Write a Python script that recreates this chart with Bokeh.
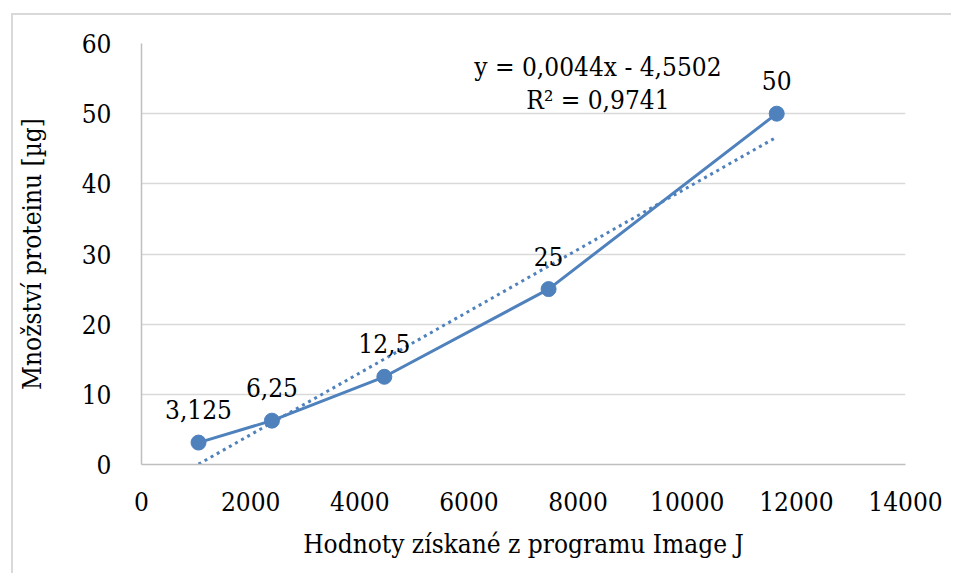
import numpy as np
from bokeh.plotting import figure
from bokeh.models import Label, ColumnDataSource
from bokeh.core.properties import value
from bokeh.embed import file_html
from bokeh.resources import INLINE

# data
x_vals = [1045, 2390, 4450, 7460, 11640]
y_vals = [3.125, 6.25, 12.5, 25, 50]
point_labels = ["3,125", "6,25", "12,5", "25", "50"]
slope = 0.0044
intercept = -4.5502
eq_text = "y = 0,0044x - 4,5502"
r2_text = "R² = 0,9741"
x_ticks = [0, 2000, 4000, 6000, 8000, 10000, 12000, 14000]
y_ticks = [0, 10, 20, 30, 40, 50, 60]
x_title = "Hodnoty získané z programu Image J"
y_title = "Množství proteinu [µg]"

FONT = "'DejaVu Serif Condensed', 'DejaVu Serif'"
FS = "26px"
BLUE = "#4f81bd"

p = figure(width=940, height=560, x_range=(0, 14000), y_range=(0, 60),
           output_backend="svg", toolbar_location=None,
           min_border_left=127, min_border_right=48, min_border_top=28,
           min_border_bottom=111,
           styles={"border-left": "2px solid #d9d9d9", "border-top": "2px solid #d9d9d9",
                   "margin-left": "11px", "margin-top": "13px"})
p.outline_line_color = None
p.background_fill_color = "white"
p.border_fill_color = "white"

p.xgrid.visible = False
p.ygrid.grid_line_color = "#d9d9d9"
p.ygrid.grid_line_width = 1.5
p.xaxis.ticker = x_ticks
p.yaxis.ticker = y_ticks

for ax in (p.xaxis, p.yaxis):
    ax.axis_line_color = "#bfbfbf"
    ax.axis_line_width = 1.5
    ax.major_tick_line_color = None
    ax.minor_tick_line_color = None
    ax.major_label_text_font = FONT
    ax.major_label_text_font_size = FS
    ax.major_label_text_color = "#000000"
    ax.axis_label_text_font = FONT
    ax.axis_label_text_font_size = FS
    ax.axis_label_text_font_style = "normal"
    ax.axis_label_text_color = "#000000"

p.xaxis.axis_label = x_title
p.yaxis.axis_label = y_title
p.xaxis.major_label_standoff = 21
p.yaxis.major_label_standoff = 24
p.xaxis.axis_label_standoff = 15
p.yaxis.axis_label_standoff = 32

# trendline
tx = np.array([min(x_vals), max(x_vals)], dtype=float)
ty = slope * tx + intercept
p.line(tx, ty, line_color=BLUE, line_width=3, line_dash="3 4")

src = ColumnDataSource(dict(x=x_vals, y=y_vals, t=point_labels))
p.line("x", "y", source=src, line_color=BLUE, line_width=3)
p.scatter("x", "y", source=src, size=15, fill_color=BLUE, line_color=BLUE)
p.text("x", "y", text="t", source=src, y_offset=-33, text_align="center",
       text_baseline="middle", text_font=value(FONT), text_font_size=FS,
       text_color="#000000")

p.add_layout(Label(x=8364, y=56.6, text=eq_text, text_align="center",
                   text_baseline="middle", text_font=FONT, text_font_size=FS,
                   text_color="#000000"))
p.add_layout(Label(x=8364, y=51.9, text=r2_text, text_align="center",
                   text_baseline="middle", text_font=FONT, text_font_size=FS,
                   text_color="#000000"))

open("out.html", "w").write(file_html(p, INLINE))
